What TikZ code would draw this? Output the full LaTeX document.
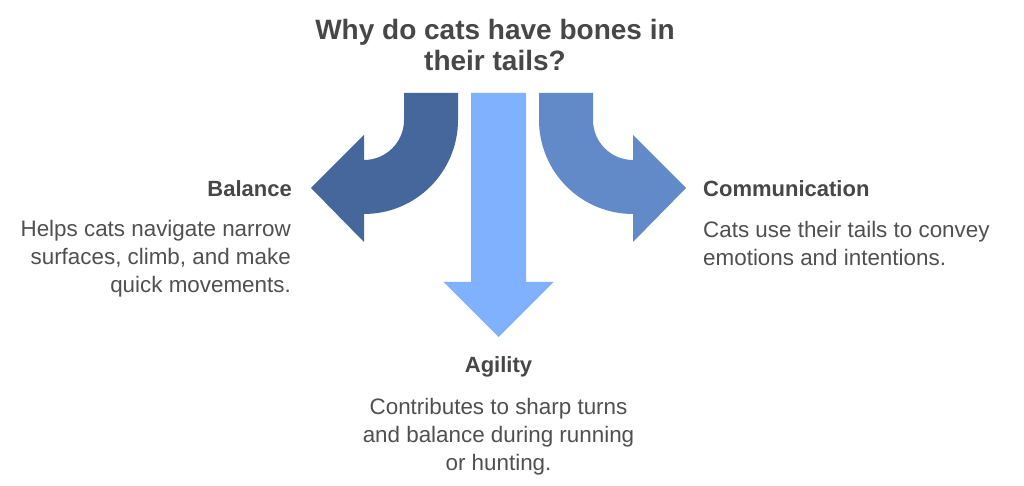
\documentclass[tikz,border=0pt]{standalone}
\usepackage{fontspec}
\setmainfont{Liberation Sans}
\definecolor{darkblue}{HTML}{46679B}
\definecolor{lightblue}{HTML}{80B1FF}
\definecolor{midblue}{HTML}{6289C8}
\definecolor{txt}{HTML}{474747}
\definecolor{bodytxt}{HTML}{505050}
\begin{document}
\begin{tikzpicture}[x=1pt,y=1pt,
  titletext/.style={inner sep=0pt, text=txt, font=\fontsize{28}{31}\selectfont\bfseries, align=center},
  headtext/.style={inner sep=0pt, text=txt, font=\fontsize{22}{26}\selectfont\bfseries},
  bodytext/.style={inner sep=0pt, text=bodytxt, font=\fontsize{22.4}{27.8}\selectfont}]
\useasboundingbox (0,0) rectangle (1024,486);
\fill[white] (0,0) rectangle (1024,486);

% left arrow (Balance)
\fill[darkblue] (404,393) -- (458,393) -- (458,366)
  arc[start angle=0, end angle=-90, radius=94] -- (364,244) -- (311,298)
  -- (364,351) -- (364,326) arc[start angle=-90, end angle=0, radius=40] -- cycle;
% right arrow (Communication)
\fill[midblue] (593,393) -- (539,393) -- (539,366)
  arc[start angle=180, end angle=270, radius=94] -- (633,244) -- (686,298)
  -- (633,351) -- (633,326) arc[start angle=270, end angle=180, radius=40] -- cycle;
% middle arrow (Agility)
\fill[lightblue] (471,393) -- (526,393) -- (526,204) -- (553.5,204) -- (498.5,149)
  -- (443.5,204) -- (471,204) -- cycle;

\node[titletext, anchor=north] (title) at (495,467) {Why do cats have bones in\\their tails?};

\node[headtext, anchor=base east] (balance) at (292,289.5) {Balance};
\node[bodytext, anchor=north east, align=right] (balancetxt) at (291,265.5)
  {Helps cats navigate narrow\\surfaces, climb, and make\\quick movements.};

\node[headtext, anchor=base west] (comm) at (703,289.5) {Communication};
\node[bodytext, anchor=north west, align=left] (commtxt) at (703,264.5)
  {Cats use their tails to convey\\emotions and intentions.};

\node[headtext, anchor=base] (agility) at (498.5,113.5) {Agility};
\node[bodytext, anchor=north, align=center] (agilitytxt) at (498.5,87.5)
  {Contributes to sharp turns\\and balance during running\\or hunting.};
\end{tikzpicture}
\end{document}
